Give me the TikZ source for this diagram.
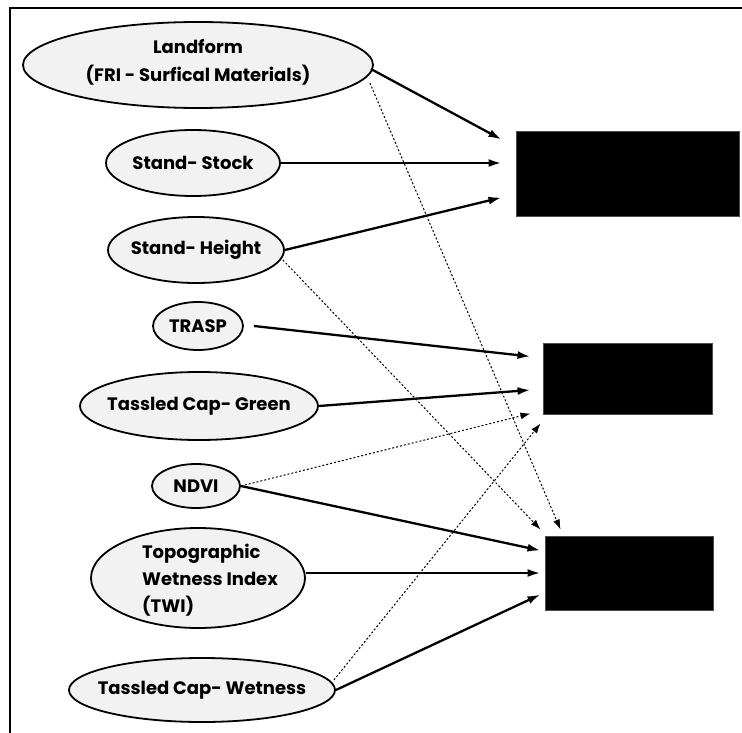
\documentclass[tikz,border=0pt]{standalone}
\usepackage{fontspec}
\setmainfont{Poppins}
\usetikzlibrary{shapes.geometric,arrows.meta,calc}
\begin{document}
\begin{tikzpicture}[x=1pt,y=-1pt,
  oval/.style={ellipse,draw,line width=1.8pt,fill=black!5,inner sep=0pt},
  lbl/.style={font=\fontsize{18}{28}\selectfont\bfseries,inner sep=0pt,align=center},
  blk/.style={draw=black!70,fill=black,line width=1pt,inner sep=0pt},
  sol/.style={line width=2.3pt,-{Latex[length=13pt,width=8pt]}},
  dotarrow/.style={line width=1pt,dash pattern=on 2pt off 2pt,-{Latex[length=10pt,width=7pt]}}]
\useasboundingbox (0,0) rectangle (742,733);
\coordinate (fbl) at (10,733);
\coordinate (ftl) at (10,8);
\coordinate (ftr) at (742,8);
\draw[line width=1.5pt] (fbl) -- (ftl) -- (ftr);

% ovals
\node[oval,minimum width=350pt,minimum height=86pt] (lf) at (198,65) {};
\node[lbl] (lft) at (198,62) {Landform\\(FRI - Surfical Materials)};
\node[oval,minimum width=174pt,minimum height=66pt] (ss) at (193,163) {};
\node[lbl] (sst) at (193,163) {Stand- Stock};
\node[oval,minimum width=176pt,minimum height=66pt] (sh) at (196,250) {};
\node[lbl] (sht) at (196,250) {Stand- Height};
\node[oval,minimum width=90pt,minimum height=48pt] (tr) at (198,326) {};
\node[lbl] (trt) at (198,326) {TRASP};
\node[oval,minimum width=238pt,minimum height=68pt] (tcg) at (199,406) {};
\node[lbl] (tcgt) at (199,406) {Tassled Cap- Green};
\node[oval,minimum width=88pt,minimum height=44pt] (nd) at (196,486) {};
\node[lbl] (ndt) at (196,486) {NDVI};
\node[oval,minimum width=214pt,minimum height=100pt] (tw) at (198,578) {};
\node[lbl,align=left,font=\fontsize{18}{27}\selectfont\bfseries] (twt) at (210,580) {Topographic\\Wetness Index\\(TWI)};
\node[oval,minimum width=266pt,minimum height=64pt] (tcw) at (202,690) {};
\node[lbl] (tcwt) at (202,690) {Tassled Cap- Wetness};

% boxes
\node[blk,minimum width=223pt,minimum height=84pt] (b1) at (627.5,174) {};
\node[blk,minimum width=169pt,minimum height=71pt] (b2) at (627.5,378.5) {};
\node[blk,minimum width=168pt,minimum height=74pt] (b3) at (629,573) {};

% connectors
\draw[sol] ($(lf.east)+(-3,4)$) -- ($(b1.north west)+(-14,8)$);
\draw[sol] (ss.east) -- ($(b1.west)+(-14,-11)$);
\draw[sol] (sh.east) -- ($(b1.south west)+(-14,-19)$);
\draw[dotarrow] ($(lf.east)+(-4,18)$) -- ($(b3.north west)+(16,-6)$);
\draw[dotarrow] ($(sh.east)+(-2,10)$) -- ($(b3.north west)+(-4,-6)$);
\draw[sol] ($(tr.east)+(10,0)$) -- ($(b2.north west)+(-12,14)$);
\draw[sol] (tcg.east) -- ($(b2.west)+(-12,11.5)$);
\draw[dotarrow] (nd.east) -- ($(b2.south west)+(-12,-1)$);
\draw[dotarrow] ($(tcw.east)+(-2,-10)$) -- ($(b2.south west)+(-2,9)$);
\draw[sol] (nd.east) -- ($(b3.north west)+(-4,15)$);
\draw[sol] ($(tw.east)+(0,-5)$) -- ($(b3.west)+(-4,0)$);
\draw[sol] (tcw.east) -- ($(b3.south west)+(-4,-16)$);
\end{tikzpicture}
\end{document}
